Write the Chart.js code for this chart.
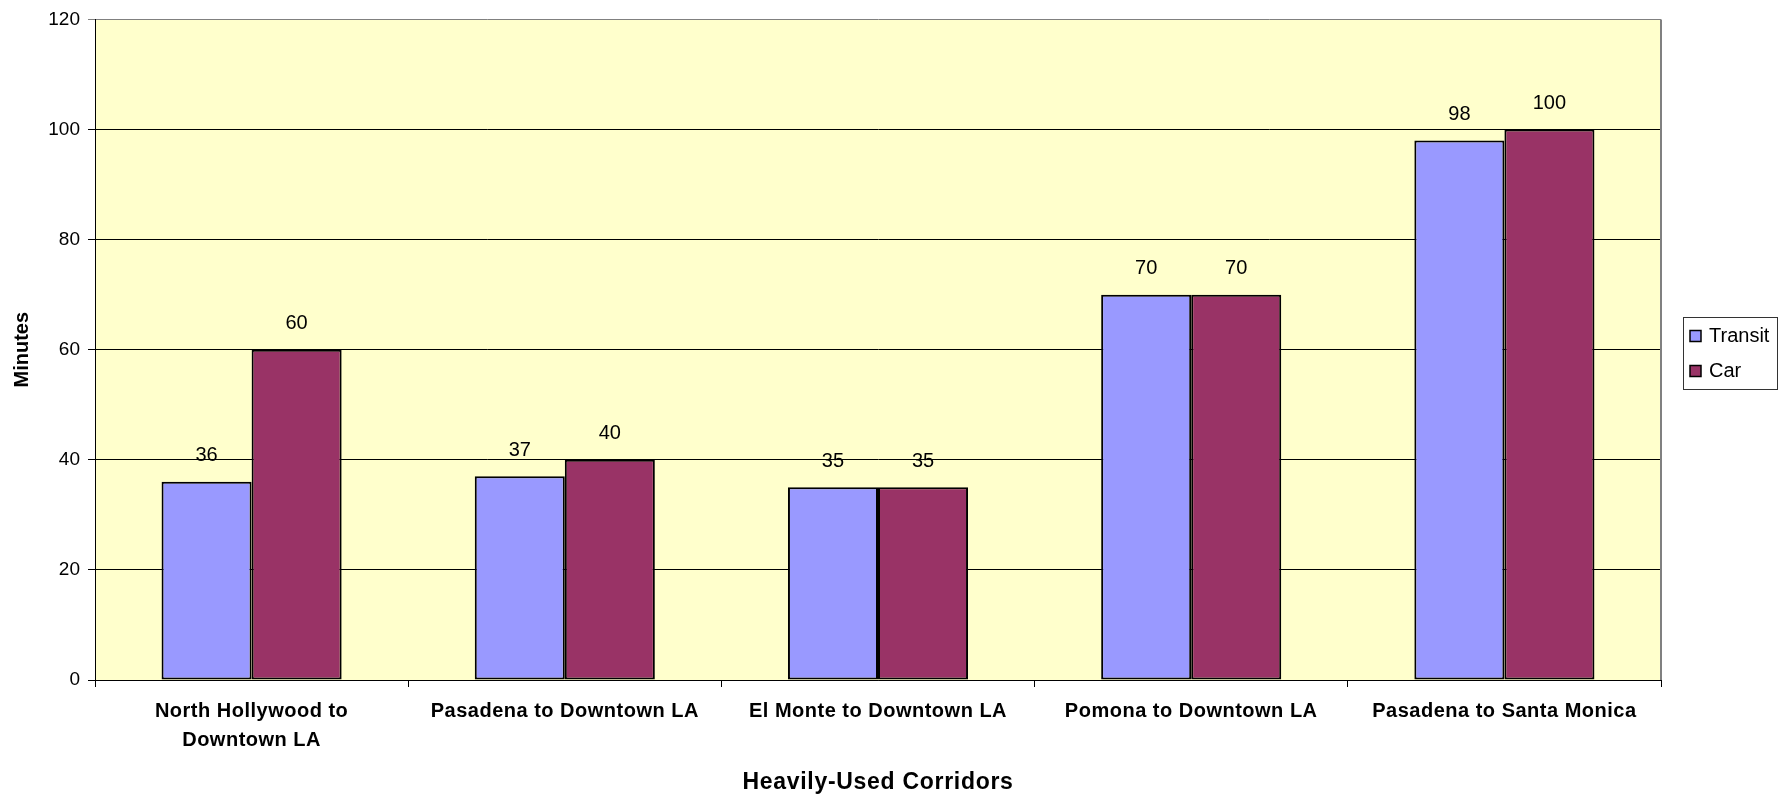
<!DOCTYPE html>
<html>
<head>
<meta charset="utf-8">
<script src="https://cdn.jsdelivr.net/npm/chart.js@4/dist/chart.umd.min.js"></script>
<style>
  html, body { margin: 0; padding: 0; background: #ffffff; }
  #wrap { width: 1787px; height: 796px; position: relative; }
</style>
</head>
<body>
<div id="wrap"><canvas id="c" width="1787" height="796"></canvas></div>
<script>
const categories = [
  ["North Hollywood to", "Downtown LA"],
  "Pasadena to Downtown LA",
  "El Monte to Downtown LA",
  "Pomona to Downtown LA",
  "Pasadena to Santa Monica"
];
const transitValues = [36, 37, 35, 70, 98];
const carValues = [60, 40, 35, 70, 100];
const seriesNames = ["Transit", "Car"];
const seriesColors = ["#9999FF", "#993366"];
const yTicks = [0, 20, 40, 60, 80, 100, 120];
const xTitle = "Heavily-Used Corridors";
const yTitle = "Minutes";

const FONT = "'Liberation Sans', Arial, sans-serif";

const bgPlugin = {
  id: 'bg',
  beforeDraw(chart) {
    const {ctx, chartArea: a} = chart;
    // letter spacing for the category axis text (wrap once)
    const xs = chart.scales.x;
    if (xs && !xs._lsWrapped) {
      const origLabels = xs.drawLabels;
      const origTitle = xs.drawTitle;
      xs.drawLabels = function(area) {
        const c = this.ctx; const prev = c.letterSpacing;
        c.letterSpacing = '0.5px'; origLabels.call(this, area); c.letterSpacing = prev || '0px';
      };
      xs.drawTitle = function(area) {
        const c = this.ctx; const prev = c.letterSpacing;
        c.letterSpacing = '0.7px'; origTitle.call(this, area); c.letterSpacing = prev || '0px';
      };
      xs._lsWrapped = true;
    }
    ctx.save();
    ctx.fillStyle = '#FFFFCC';
    ctx.fillRect(a.left, a.top, a.right - a.left, a.bottom - a.top);
    ctx.restore();
  },
  afterDraw(chart) {
    const {ctx, chartArea: a} = chart;
    ctx.save();
    ctx.strokeStyle = '#808080';
    ctx.lineWidth = 2;
    ctx.beginPath();
    ctx.moveTo(a.right, a.top);
    ctx.lineTo(a.right, a.bottom);
    ctx.stroke();
    ctx.restore();
  }
};

const labelPlugin = {
  id: 'vals',
  afterDatasetsDraw(chart) {
    const {ctx} = chart;
    ctx.save();
    ctx.font = '20px ' + FONT;
    ctx.fillStyle = '#000';
    ctx.textAlign = 'center';
    ctx.textBaseline = 'middle';
    chart.data.datasets.forEach((ds, i) => {
      const meta = chart.getDatasetMeta(i);
      meta.data.forEach((el, j) => {
        ctx.fillText(String(ds.data[j]), el.x, el.y - 26);
      });
    });
    ctx.restore();
  }
};

const legendPlugin = {
  id: 'customLegend',
  afterDraw(chart) {
    const {ctx} = chart;
    const bx = 1683, by = 317, bw = 94, bh = 72;
    ctx.save();
    ctx.fillStyle = '#fff';
    ctx.fillRect(bx, by, bw, bh);
    ctx.strokeStyle = '#333';
    ctx.lineWidth = 1;
    ctx.strokeRect(bx + 0.5, by + 0.5, bw, bh);
    ctx.font = '20px ' + FONT;
    ctx.textBaseline = 'middle';
    ctx.textAlign = 'left';
    chart.data.datasets.forEach((ds, i) => {
      const cy = 336 + i * 35;
      ctx.fillStyle = ds.backgroundColor;
      ctx.fillRect(1690, cy - 5.5, 11, 11);
      ctx.strokeStyle = '#000';
      ctx.lineWidth = 1.5;
      ctx.strokeRect(1690, cy - 5.5, 11, 11);
      ctx.fillStyle = '#000';
      ctx.fillText(ds.label, 1709, cy);
    });
    ctx.restore();
  }
};

new Chart(document.getElementById('c'), {
  type: 'bar',
  data: {
    labels: categories,
    datasets: [
      { label: seriesNames[0], data: transitValues, backgroundColor: seriesColors[0],
        borderColor: '#000', borderWidth: 2, borderSkipped: false },
      { label: seriesNames[1], data: carValues, backgroundColor: seriesColors[1],
        borderColor: '#000', borderWidth: 2, borderSkipped: false }
    ]
  },
  options: {
    responsive: false,
    animation: false,
    events: [],
    layout: { padding: { top: 17.5, right: 126, bottom: 0, left: 0 } },
    datasets: { bar: { categoryPercentage: 0.575, barPercentage: 1.0 } },
    plugins: {
      legend: { display: false },
      tooltip: { enabled: false }
    },
    scales: {
      x: {
        offset: true,
        grid: { display: true, drawOnChartArea: false, drawTicks: true, tickLength: 7,
                offset: true, color: '#000', lineWidth: 1 },
        border: { display: true, color: '#000', width: 1 },
        ticks: { color: '#000', padding: 9.5, maxRotation: 0, autoSkip: false,
                 font: { family: FONT, size: 20, weight: 'bold', lineHeight: 1.45 } },
        title: { display: true, text: xTitle, color: '#000',
                 font: { family: FONT, size: 23, weight: 'bold', lineHeight: 1.2 },
                 padding: { top: 0, bottom: 0 } },
        afterFit(scale) { scale.height = 116; }
      },
      y: {
        min: 0, max: 120,
        afterBuildTicks(scale) { scale.ticks = yTicks.map(v => ({ value: v })); },
        grid: { color: (c) => (c.tick && c.tick.value === 120) ? '#808080' : '#000',
                lineWidth: 1, drawTicks: true, tickLength: 7 },
        border: { display: true, color: '#000', width: 1 },
        ticks: { color: '#000', padding: 8, font: { family: FONT, size: 19 } },
        title: { display: true, text: yTitle, color: '#000',
                 font: { family: FONT, size: 20, weight: 'bold', lineHeight: 1.2 },
                 padding: { top: 10, bottom: 0 } },
        afterFit(scale) { scale.width = 95; }
      }
    }
  },
  plugins: [bgPlugin, labelPlugin, legendPlugin]
});
</script>
</body>
</html>
